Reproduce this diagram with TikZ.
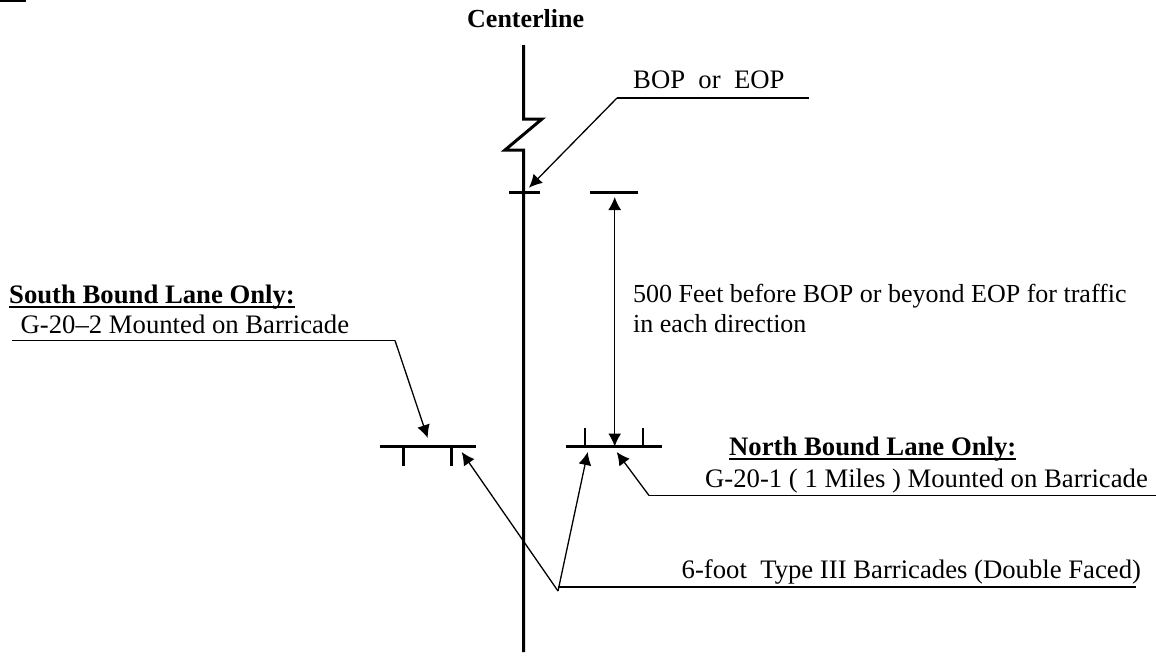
\documentclass[tikz,border=0pt]{standalone}
\usepackage{fontspec}
\setmainfont{Liberation Serif}
\usetikzlibrary{arrows.meta}
\newcommand\ubar[1]{\setbox0\hbox{#1}\rlap{\rule[-5pt]{\wd0}{2.5pt}}\box0}
\begin{document}
\begin{tikzpicture}[x=1pt,y=-1pt,
  thick line/.style={line width=3pt,line cap=butt},
  thin line/.style={line width=1.3pt},
  tipstyle/.tip={Latex[length=13pt,width=13pt]},
  leader/.style={line width=1.3pt,-{tipstyle}},
  both/.style={line width=1.3pt,{tipstyle}-{tipstyle}},
  txt/.style={inner sep=0pt,anchor=base west,font=\fontsize{26.7}{30}\selectfont},
  stxt/.style={inner sep=0pt,anchor=base west,font=\fontsize{26}{30}\selectfont},
  btxt/.style={inner sep=0pt,anchor=base west,font=\fontsize{26.7}{30}\selectfont\bfseries},
  tick/.style={line width=2.6pt}]
\useasboundingbox (0,0) rectangle (1156,656);
\fill (0,0) rectangle (26,2);
\node[btxt,font=\fontsize{26}{30}\selectfont\bfseries] (cl) at (467,27) {Centerline};
\node[txt] (bop) at (633,88) {BOP\ \ or\ \ EOP};
\node[stxt] (dist1) at (633,302.7) {500 Feet before BOP or beyond EOP for traffic};
\node[stxt] (dist2) at (633,332.7) {in each direction};
\node[btxt] (sb) at (9,303) {\ubar{South Bound Lane Only:}};
\node[txt] (sb2) at (20.5,333) {G-20--2 Mounted on Barricade};
\node[btxt] (nb) at (729,455) {\ubar{North Bound Lane Only:}};
\node[txt] (nb2) at (705,487) {G-20-1 ( 1 Miles ) Mounted on Barricade};
\node[txt] (bar) at (681.5,578) {6-foot\ \ Type III Barricades (Double Faced)};
% centerline
\coordinate (c1) at (523.7,45);
\coordinate (c2) at (523.7,119);
\coordinate (c3) at (542,119);
\coordinate (c4) at (505,150);
\coordinate (c5) at (523.7,150);
\coordinate (c6) at (523.7,652);
\draw[thick line,line join=miter] (c1)--(c2)--(c3)--(c4)--(c5)--(c6);
% bars
\coordinate (t1a) at (509,192.7); \coordinate (t1b) at (540,192.7);
\draw[tick] (t1a)--(t1b);
\coordinate (t2a) at (590,192.7); \coordinate (t2b) at (638,192.7);
\draw[tick] (t2a)--(t2b);
\coordinate (l1a) at (379.5,446.7); \coordinate (l1b) at (476,446.7);
\draw[tick] (l1a)--(l1b);
\coordinate (l2a) at (403.7,446.7); \coordinate (l2b) at (403.7,465.7);
\draw[tick] (l2a)--(l2b);
\coordinate (l3a) at (451.7,446.7); \coordinate (l3b) at (451.7,465.7);
\draw[tick] (l3a)--(l3b);
\coordinate (r1a) at (566,446.7); \coordinate (r1b) at (662,446.7);
\draw[tick] (r1a)--(r1b);
\coordinate (r2a) at (585,446.7); \coordinate (r2b) at (585,428);
\draw[tick] (r2a)--(r2b);
\coordinate (r3a) at (643,446.7); \coordinate (r3b) at (643,428);
\draw[tick] (r3a)--(r3b);
% leaders
\coordinate (la) at (617,98); \coordinate (lb) at (809,98); \coordinate (lt) at (529,187.7);
\draw[thin line] (lb)--(la);
\draw[leader] (la)--(lt);
\coordinate (da) at (614.7,197); \coordinate (db) at (614.7,446.5);
\draw[both] (da)--(db);
\coordinate (s1) at (12,340.5); \coordinate (s2) at (395,340.5); \coordinate (s3) at (427.7,438);
\draw[thin line] (s1)--(s2);
\draw[leader] (s2)--(s3);
\coordinate (n1) at (1156,495.5); \coordinate (n2) at (649,495.5); \coordinate (n3) at (616.7,452);
\draw[thin line] (n1)--(n2);
\draw[leader] (n2)--(n3);
\coordinate (b1) at (1135.7,587); \coordinate (b2) at (558,587); \coordinate (bv) at (558,591);
\coordinate (b3) at (461.7,452); \coordinate (b4) at (587.7,452);
\draw[thin line] (b1)--(b2);
\draw[leader] (bv)--(b3);
\draw[leader] (bv)--(b4);
\end{tikzpicture}
\end{document}
